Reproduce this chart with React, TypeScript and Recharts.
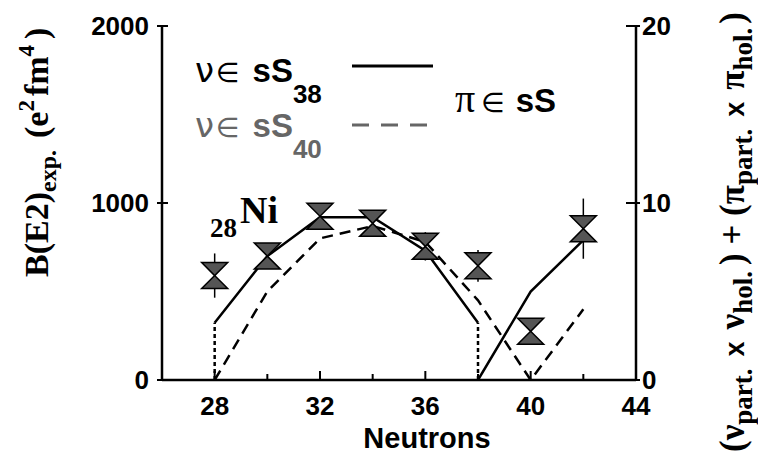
import React from "react";
import {
  ComposedChart,
  Line,
  Scatter,
  ErrorBar,
  XAxis,
  YAxis,
} from "recharts";

// experimental B(E2) values (left axis)
const N_EXP = [28, 30, 32, 34, 36, 38, 40, 42];
const BE2 = [590, 700, 925, 885, 755, 645, 275, 855];
const BE2_ERR = [125, 40, 40, 40, 80, 90, 40, 170];

// nu in sS38 (right axis), two branches
const N_S38A = [28, 30, 32, 34, 36, 38];
const S38A = [3.24, 7.0, 9.2, 9.2, 7.3, 3.24];
const N_S38B = [38, 40, 42];
const S38B = [0, 5.0, 7.9];

// nu in sS40 (right axis)
const N_S40 = [28, 30, 32, 34, 36, 38, 40, 42];
const S40 = [0, 5.0, 8.0, 8.7, 7.8, 4.5, 0, 4.0];

// dotted drops at shell closures
const DROP_N = [28, 38];
const DROP_TOP = [3.24, 3.24];

const X_TICKS = [28, 30, 32, 34, 36, 38, 40, 42, 44];
const X_LABELS = [28, 32, 36, 40, 44];
const L_TICKS = [0, 1000, 2000];
const R_TICKS = [0, 10, 20];

const expData = N_EXP.map((n, i) => ({ n, b: BE2[i], err: BE2_ERR[i] }));
const s38a = N_S38A.map((n, i) => ({ n, v: S38A[i] }));
const s38b = N_S38B.map((n, i) => ({ n, v: S38B[i] }));
const s40 = N_S40.map((n, i) => ({ n, v: S40[i] }));
const drops = DROP_N.map((n, i) => [
  { n, v: 0 },
  { n, v: DROP_TOP[i] },
]);

const SANS = "'Liberation Sans', Arial, sans-serif";
const SERIF = "'Liberation Serif', 'Times New Roman', serif";
const GREEK = "'DejaVu Sans', sans-serif";

const XTick = (props: any) => {
  const { x, y, payload } = props;
  const major = X_LABELS.includes(payload.value);
  return (
    <g>
      <line x1={x} x2={x} y1={y} y2={y - (major ? 9 : 6)} stroke="#000" strokeWidth={2} />
      {major && (
        <text x={x} y={y + 35} textAnchor="middle" fontFamily={SANS} fontWeight="bold" fontSize={26} fill="#000">
          {payload.value}
        </text>
      )}
    </g>
  );
};

const LTick = (props: any) => {
  const { x, y, payload } = props;
  return (
    <g>
      <line x1={x - 5} x2={x + 6} y1={y} y2={y} stroke="#000" strokeWidth={2} />
      <text x={x - 13} y={y} dy="0.36em" textAnchor="end" fontFamily={SANS} fontWeight="bold" fontSize={26} fill="#000">
        {payload.value}
      </text>
    </g>
  );
};

const RTick = (props: any) => {
  const { x, y, payload } = props;
  return (
    <g>
      <line x1={x - 10} x2={x + 4} y1={y} y2={y} stroke="#000" strokeWidth={2} />
      <text x={x + 6} y={y} dy="0.36em" textAnchor="start" fontFamily={SANS} fontWeight="bold" fontSize={26} fill="#000">
        {payload.value}
      </text>
    </g>
  );
};

const Hourglass = (props: any) => {
  const { cx, cy } = props;
  const h = 13;
  const d = `M${cx - h},${cy - h} L${cx + h},${cy - h} L${cx},${cy} Z M${cx - h},${cy + h} L${cx + h},${cy + h} L${cx},${cy} Z`;
  return <path d={d} fill="#555" stroke="#000" strokeWidth={1.5} strokeLinejoin="miter" />;
};

export default function App() {
  return (
    <div style={{ position: "absolute", left: 0, top: 0, width: 758, height: 455, background: "#fff" }}>
      <ComposedChart width={758} height={455} margin={{ top: 26, right: 62, bottom: 15, left: 82 }}>
        <XAxis
          dataKey="n"
          type="number"
          domain={[26, 44]}
          ticks={X_TICKS}
          allowDataOverflow
          tickSize={0}
          tickMargin={0}
          tickLine={false}
          height={60}
          axisLine={{ stroke: "#000", strokeWidth: 2.5 }}
          tick={<XTick />}
        />
        <YAxis
          yAxisId="left"
          dataKey="b"
          domain={[0, 2000]}
          ticks={L_TICKS}
          allowDataOverflow
          tickSize={0}
          tickMargin={0}
          tickLine={false}
          width={80}
          axisLine={{ stroke: "#000", strokeWidth: 2.5 }}
          tick={<LTick />}
        />
        <YAxis
          yAxisId="right"
          orientation="right"
          domain={[0, 20]}
          ticks={R_TICKS}
          allowDataOverflow
          tickSize={0}
          tickMargin={0}
          tickLine={false}
          width={60}
          axisLine={{ stroke: "#000", strokeWidth: 2.5 }}
          tick={<RTick />}
        />
        {drops.map((d, i) => (
          <Line
            key={"drop" + i}
            data={d}
            dataKey="v"
            yAxisId="right"
            stroke="#000"
            strokeWidth={2.5}
            strokeDasharray="4 3"
            dot={false}
            activeDot={false}
            isAnimationActive={false}
          />
        ))}
        <Line data={s40} dataKey="v" yAxisId="right" stroke="#000" strokeWidth={2.5} strokeDasharray="11 7" dot={false} activeDot={false} isAnimationActive={false} />
        <Line data={s38a} dataKey="v" yAxisId="right" stroke="#000" strokeWidth={2.5} dot={false} activeDot={false} isAnimationActive={false} />
        <Line data={s38b} dataKey="v" yAxisId="right" stroke="#000" strokeWidth={2.5} dot={false} activeDot={false} isAnimationActive={false} />
        <Scatter data={expData} dataKey="b" yAxisId="left" shape={<Hourglass />} isAnimationActive={false}>
          <ErrorBar dataKey="err" direction="y" width={0} stroke="#000" strokeWidth={1.5} />
        </Scatter>
      </ComposedChart>

      <svg width={758} height={455} style={{ position: "absolute", left: 0, top: 0, pointerEvents: "none" }}>
        {/* left axis title */}
        <text transform="translate(48,277) rotate(-90)" fontFamily={SERIF} fontWeight="bold" fontSize={34} fill="#000">
          <tspan>B(E2)</tspan>
          <tspan fontSize={24} dy={8}>exp.</tspan>
          <tspan dy={-8} dx={12}>(e</tspan>
          <tspan fontSize={23} dy={-14}>2</tspan>
          <tspan dy={14} dx={4}>fm</tspan>
          <tspan fontSize={23} dy={-14}>4</tspan>
          <tspan dy={14} dx={6}>)</tspan>
        </text>

        {/* right axis title */}
        <text transform="translate(744,452) rotate(-90)" fontFamily={SERIF} fontWeight="bold" fontSize={35} fill="#000">
          <tspan>(ν</tspan>
          <tspan fontSize={27} dy={8}>part.</tspan>
          <tspan dy={-8} dx={12} fontFamily={SANS} fontSize={27}>x</tspan>
          <tspan dx={12}>ν</tspan>
          <tspan fontSize={27} dy={8}>hol.</tspan>
          <tspan dy={-8} dx={6}>) + (π</tspan>
          <tspan fontSize={27} dy={8}>part.</tspan>
          <tspan dy={-8} dx={12} fontFamily={SANS} fontSize={27}>x</tspan>
          <tspan dx={12}>π</tspan>
          <tspan fontSize={27} dy={8}>hol.</tspan>
          <tspan dy={-8} dx={4}>)</tspan>
        </text>

        {/* x axis title */}
        <text x={427} y={448} textAnchor="middle" fontFamily={SANS} fontWeight="bold" fontSize={29} fill="#000">
          Neutrons
        </text>

        {/* 28Ni */}
        <text x={210} y={237} fontFamily={SERIF} fontWeight="bold" fill="#000">
          <tspan fontSize={27}>28</tspan>
          <tspan fontSize={38} dy={-14} dx={3}>Ni</tspan>
        </text>

        {/* legend */}
        <text x={195} y={82} fontSize={33} fill="#000">
          <tspan fontFamily={GREEK} fontSize={34}>ν</tspan>
          <tspan fontFamily={GREEK} fontSize={27} dx={2}>∈</tspan>
          <tspan fontFamily={SANS} fontWeight="bold" dx={13}>sS</tspan>
          <tspan fontFamily={SANS} fontWeight="bold" fontSize={26} dy={21}>38</tspan>
        </text>
        <line x1={352} x2={433} y1={66} y2={66} stroke="#000" strokeWidth={3} />

        <text x={195} y={137} fontSize={33} fill="#666">
          <tspan fontFamily={GREEK} fontSize={34}>ν</tspan>
          <tspan fontFamily={GREEK} fontSize={27} dx={2}>∈</tspan>
          <tspan fontFamily={SANS} fontWeight="bold" dx={13}>sS</tspan>
          <tspan fontFamily={SANS} fontWeight="bold" fontSize={26} dy={21}>40</tspan>
        </text>
        <line x1={352} x2={433} y1={125} y2={125} stroke="#666" strokeWidth={3} strokeDasharray="17 12" />

        <text x={455} y={112} fontSize={33} fill="#000">
          <tspan fontFamily={SERIF} fontSize={40}>π</tspan>
          <tspan fontFamily={GREEK} fontSize={27} dx={6}>∈</tspan>
          <tspan fontFamily={SANS} fontWeight="bold" dx={11}>sS</tspan>
        </text>
      </svg>
    </div>
  );
}
